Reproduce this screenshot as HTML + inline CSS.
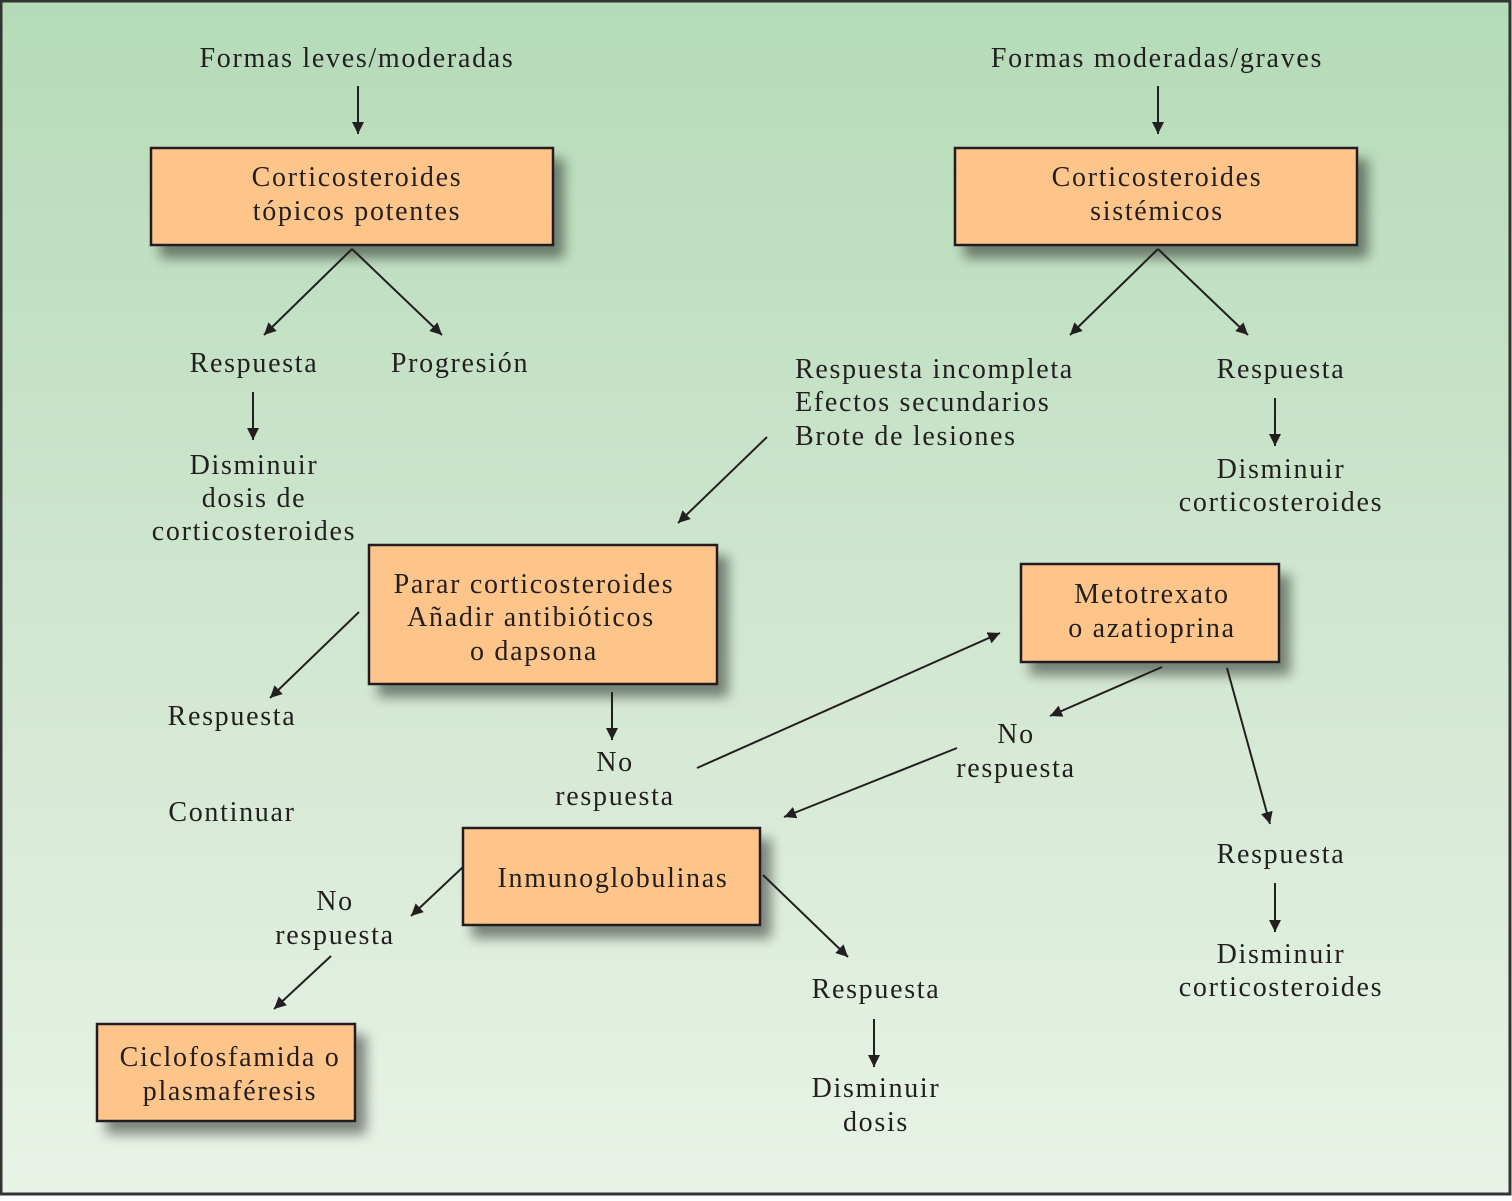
<!DOCTYPE html>
<html><head><meta charset="utf-8"><style>
html,body{margin:0;padding:0;}
body{width:1512px;height:1196px;overflow:hidden;}
svg text{font-family:"Liberation Serif",serif;font-size:28px;letter-spacing:1.7px;fill:#231f20;text-anchor:middle;}
</style></head><body>
<svg width="1512" height="1196" viewBox="0 0 1512 1196" xmlns="http://www.w3.org/2000/svg">
<defs>
<linearGradient id="bg" x1="0" y1="0" x2="0" y2="1">
<stop offset="0" stop-color="#b5dbb7"/><stop offset="0.5" stop-color="#cfe6cf"/><stop offset="1" stop-color="#e9f3e7"/>
</linearGradient>
<filter id="sh" x="-20%" y="-30%" width="150%" height="170%">
<feGaussianBlur in="SourceAlpha" stdDeviation="6"/><feOffset dx="10" dy="12"/>
<feComponentTransfer><feFuncA type="linear" slope="0.45"/></feComponentTransfer>
<feMerge><feMergeNode/><feMergeNode in="SourceGraphic"/></feMerge></filter>
<marker id="a" viewBox="0 0 10 10" refX="10" refY="5" markerWidth="12" markerHeight="12" markerUnits="userSpaceOnUse" orient="auto">
<path d="M0,0 L10,5 L0,10 z" fill="#231f20"/></marker>
</defs>
<rect x="1" y="1" width="1509" height="1193" fill="url(#bg)" stroke="#333" stroke-width="3"/>
<g fill="#fec58b" stroke="#231f20" stroke-width="2.5" filter="url(#sh)">
<rect x="151" y="148" width="402" height="97"/>
<rect x="955" y="148" width="402" height="97"/>
<rect x="369" y="545" width="348" height="139"/>
<rect x="1021" y="564" width="258" height="98"/>
<rect x="463" y="828" width="297" height="97"/>
<rect x="97" y="1024" width="258" height="97"/>
</g>
<g stroke="#231f20" stroke-width="2" marker-end="url(#a)">
<line x1="358" y1="86" x2="358" y2="134"/>
<line x1="1158" y1="86" x2="1158" y2="134"/>
<line x1="352" y1="249" x2="264" y2="335"/>
<line x1="352" y1="249" x2="442" y2="335"/>
<line x1="253" y1="392" x2="253" y2="440"/>
<line x1="1158" y1="249" x2="1070" y2="335"/>
<line x1="1158" y1="249" x2="1248" y2="335"/>
<line x1="1275" y1="398" x2="1275" y2="446"/>
<line x1="767" y1="437" x2="678" y2="523"/>
<line x1="359" y1="612" x2="270" y2="698"/>
<line x1="612" y1="692" x2="612" y2="740"/>
<line x1="697" y1="768" x2="1000" y2="633"/>
<line x1="1162" y1="667" x2="1050" y2="716"/>
<line x1="1227" y1="668" x2="1270" y2="824"/>
<line x1="957" y1="748" x2="784" y2="817"/>
<line x1="463" y1="867" x2="411" y2="916"/>
<line x1="763" y1="875" x2="848" y2="957"/>
<line x1="331" y1="956" x2="274" y2="1009"/>
<line x1="1275" y1="883" x2="1275" y2="932"/>
<line x1="874" y1="1019" x2="874" y2="1067"/>
</g>
<text x="357" y="67">Formas leves/moderadas</text>
<text x="1157" y="67">Formas moderadas/graves</text>
<text x="357" y="186">Corticosteroides</text>
<text x="357" y="220">tópicos potentes</text>
<text x="1157" y="186">Corticosteroides</text>
<text x="1157" y="220">sistémicos</text>
<text x="254" y="372">Respuesta</text>
<text x="460" y="372">Progresión</text>
<text x="254" y="474">Disminuir</text>
<text x="254" y="507">dosis de</text>
<text x="254" y="540">corticosteroides</text>
<text x="795" y="378" style="text-anchor:start">Respuesta incompleta</text>
<text x="795" y="411" style="text-anchor:start">Efectos secundarios</text>
<text x="795" y="445" style="text-anchor:start">Brote de lesiones</text>
<text x="1281" y="378">Respuesta</text>
<text x="1281" y="478">Disminuir</text>
<text x="1281" y="511">corticosteroides</text>
<text x="534" y="593">Parar corticosteroides</text>
<text x="531" y="626">Añadir antibióticos</text>
<text x="534" y="660">o dapsona</text>
<text x="1152" y="603">Metotrexato</text>
<text x="1152" y="637">o azatioprina</text>
<text x="232" y="725">Respuesta</text>
<text x="232" y="821">Continuar</text>
<text x="615" y="771">No</text>
<text x="615" y="805">respuesta</text>
<text x="1016" y="743">No</text>
<text x="1016" y="777">respuesta</text>
<text x="613" y="887">Inmunoglobulinas</text>
<text x="335" y="910">No</text>
<text x="335" y="944">respuesta</text>
<text x="1281" y="863">Respuesta</text>
<text x="1281" y="963">Disminuir</text>
<text x="1281" y="996">corticosteroides</text>
<text x="876" y="998">Respuesta</text>
<text x="876" y="1097">Disminuir</text>
<text x="876" y="1131">dosis</text>
<text x="230" y="1066">Ciclofosfamida o</text>
<text x="230" y="1100">plasmaféresis</text>
</svg>
</body></html>
